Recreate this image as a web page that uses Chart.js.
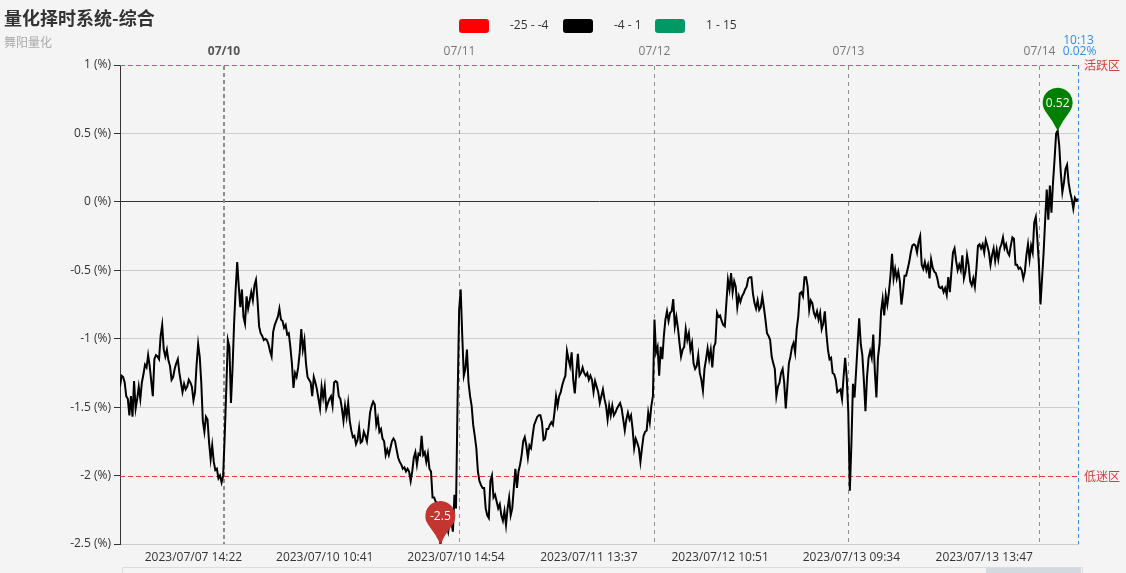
<!DOCTYPE html>
<html><head><meta charset="utf-8">
<script src="https://cdn.jsdelivr.net/npm/chart.js@4"></script>
<style>html,body{margin:0;padding:0;background:#f4f4f4;overflow:hidden}#wrap{width:1126px;height:573px}</style>
</head><body><div id="wrap"><canvas id="c" width="1126" height="573"></canvas></div>
<script>
const FONT = '"Open Sans", "Noto Sans CJK SC", sans-serif';
const CJK = '"Noto Sans CJK SC", "Microsoft YaHei", sans-serif';
const titleText = '量化择时系统-综合';
const subText = '舞阳量化';
const pieceLabels = ['-25 - -4', '-4 - 1', '1 - 15'];
const pieceColors = ['#ff0000', '#000000', '#009966'];
const pieceMin = [-25, -4, 1];
const pieceMax = [-4, 1, 15];
const dayLabels = ['07/10', '07/11', '07/12', '07/13', '07/14'];
const dayIndex = [66.75, 217, 342, 465.7, 588];
const tickIndex = [47, 131, 215, 300, 384, 468, 553];
const tickLabels = ['2023/07/07 14:22', '2023/07/10 10:41', '2023/07/10 14:54', '2023/07/11 13:37', '2023/07/12 10:51', '2023/07/13 09:34', '2023/07/13 13:47'];
const yTicks = [1, 0.5, 0, -0.5, -1, -1.5, -2, -2.5];
const lastTime = '10:13';
const upperLine = 1, upperName = '活跃区';
const lowerLine = -2, lowerName = '低迷区';

// values (%), in time order
const valuesA = [-1.35,-1.27,-1.28,-1.32,-1.42,-1.44,-1.56,-1.42,-1.57,-1.31,
-1.51,-1.44,-1.35,-1.44,-1.32,-1.26,-1.19,-1.21,-1.12,-1.20,
-1.31,-1.42,-1.15,-1.12,-1.13,-1.15,-0.98,-0.90,-1.08,-1.13,
-1.08,-1.16,-1.20,-1.30,-1.28,-1.22,-1.18,-1.15,-1.25,-1.32,
-1.39,-1.33,-1.37,-1.35,-1.30,-1.32,-1.35,-1.45,-1.39,-1.19,
-1.04,-1.13,-1.32,-1.60,-1.68,-1.57,-1.59,-1.76,-1.88,-1.78,
-1.90,-1.96,-1.95,-2.02,-2.00,-2.05,-2.00,-1.71,-1.37,-1.01,
-1.06,-1.47,-1.22,-0.89,-0.64,-0.44,-0.62,-0.77,-0.64,-0.84,
-0.89,-0.69,-0.78,-0.72,-0.66,-0.72,-0.61,-0.57,-0.72,-0.91,
-0.96,-0.98,-1.01,-1.00,-1.01,-1.04,-1.09,-1.13,-0.95,-0.90,
-0.87,-0.84,-0.78,-0.86,-0.87,-0.92,-0.90,-0.97,-0.96,-1.06,
-1.18,-1.36,-1.25,-1.28,-1.21,-1.10,-0.93,-1.08,-1.01,-1.18,
-1.28,-1.30,-1.32,-1.42,-1.28,-1.32,-1.37,-1.44,-1.51,-1.35,
-1.43,-1.35,-1.51,-1.47,-1.44,-1.42,-1.49,-1.32,-1.31,-1.32,
-1.42,-1.44,-1.51,-1.60,-1.49,-1.57,-1.47,-1.60,-1.67,-1.72,
-1.71,-1.77,-1.74,-1.65,-1.76];
const valuesB = [-1.75,-1.68,-1.71,-1.75,-1.66,-1.54,-1.49,-1.46,-1.48,-1.63,-1.58,-1.68,-1.66,-1.73,-1.75,
-1.85,-1.81,-1.85,-1.80,-1.75,-1.73,-1.75,-1.81,-1.87,-1.90,-1.92,-1.95,-1.94,-1.97,-1.95,-1.97,-2.04,-1.97,-1.87,-1.83,
-1.92,-1.84,-1.85,-1.71,-1.85,-1.83,-1.90,-1.84,-1.95,-1.97,-2.16,-2.16,-2.19,-2.20,-2.29,-2.50,-2.45,-2.41,-2.38,-2.36,-2.41,-2.33,-2.33,-2.41,-2.14,-2.24,
-1.46,-0.79,-0.64,-0.98,
-1.27,-1.22,-1.08,-1.32,-1.42,-1.49,-1.63,
-1.71,-1.80,
-1.97,-2.04,-2.07,-2.09,-2.09,-2.24,-2.29,-2.31,-2.04,
-2.00,-2.16,-2.14,-2.19,
-2.24,-2.21,-2.29,-2.33,
-2.26,-2.36,-2.24,
-2.16,-2.29,-2.24,-2.09,-1.95,-2.09,-1.97,-1.92,-1.85,-1.75,-1.72,-1.78,-1.87,-1.78,-1.80,-1.71,-1.63,-1.60,-1.57,-1.56,-1.56,-1.61,-1.74,-1.73,-1.66,-1.66,-1.63,-1.61,-1.63,-1.54,
-1.42,-1.49,-1.42,
-1.39,-1.34,-1.30,-1.27,-1.09,-1.15,-1.20,-1.10,-1.30,-1.40,-1.25,-1.11,-1.27,-1.25,-1.21,-1.25,-1.27,-1.25,-1.30,-1.27];
const valuesC = [-1.30,-1.39,-1.31,-1.35,-1.39,-1.47,-1.42,-1.37,-1.44,-1.49,-1.59,-1.49,
-1.56,-1.49,-1.56,-1.54,-1.51,-1.49,-1.47,-1.51,-1.59,-1.67,-1.59,-1.54,-1.59,-1.56,-1.66,-1.80,-1.73,-1.76,-1.80,-1.90,-1.80,-1.71,-1.68,-1.67,-1.54,-1.61,-1.49,
-1.42,-0.86,-1.10,-1.06,-1.27,-1.06,-1.15,
-0.98,-0.86,-0.80,-0.87,-0.81,-0.80,-0.71,-0.91,-0.84,-0.92,-1.03,-1.13,-1.08,-1.06,-0.93,-1.01,-0.96,-1.08,-1.03,-1.18,-1.22,-1.20,-1.12,-1.25,-1.30,
-1.38,-1.22,
-1.15,-1.07,-1.15,-1.08,-1.21,-1.06,-1.03,-0.81,-0.84,-0.83,-0.87,-0.90,-0.91,-0.74,-0.57,
-0.64,-0.52,
-0.66,-0.58,-0.62,-0.77,-0.69,-0.73,-0.69,-0.67,-0.64,-0.62,-0.56,-0.55,-0.55,-0.67,-0.74,-0.78,-0.72,-0.79,-0.77,-0.69,-0.77,-0.86,-0.96,-0.98,-1.01,-1.13,-1.18,-1.22,-1.42,-1.35,-1.32,-1.25,-1.22,-1.32,
-1.51,-1.35,-1.18,-1.13,-1.06,
-1.03,-1.10,-0.93,
-0.84,-0.67,-0.66,-0.69,-0.55,-0.55,-0.62,-0.79,-0.72,-0.74,-0.81,-0.84,-0.80,-0.86,-0.81,
-0.93,-0.89,
-0.80,-0.96,-1.08,-1.15,-1.14,-1.25,-1.26,-1.30,-1.39];
const valuesD = [-1.38,-1.37,-1.44,-1.28,-1.14,-1.28,
-1.53,-2.11,-1.77,-1.33,-1.43,-1.24,-1.04,-0.85,-1.04,-1.12,-1.31,-1.53,-1.28,-1.14,-1.09,-1.14,-0.97,-1.24,-1.43,-1.14,-1.04,
-0.80,-0.71,-0.83,-0.68,-0.75,-0.66,-0.54,-0.38,-0.56,-0.49,-0.56,-0.51,-0.58,-0.75,-0.66,-0.54,-0.54,
-0.49,-0.44,-0.37,-0.32,-0.31,-0.32,-0.37,-0.29,-0.25,
-0.46,-0.49,-0.44,
-0.50,-0.46,-0.56,-0.42,-0.48,-0.51,-0.52,-0.56,-0.62,-0.63,-0.62,-0.66,-0.63,-0.68,-0.55,-0.66,-0.51,-0.37,-0.34,-0.43,
-0.50,-0.46,-0.50,-0.39,-0.56,-0.51,-0.39,-0.46,-0.58,-0.61,-0.56,-0.62,-0.49,-0.32,-0.31,-0.34,-0.31,-0.37,-0.28,-0.32,
-0.37,-0.46,-0.39,-0.34,-0.43,-0.35,-0.42,-0.34,-0.31,-0.26,-0.34,-0.31,-0.37,-0.39,-0.32,-0.26,-0.27,-0.46,-0.46,-0.49,
-0.48,-0.50,-0.56,-0.51,-0.39,-0.31,-0.42,
-0.32,-0.37,-0.15,
-0.11,-0.27,-0.46,-0.75,-0.56,-0.37,-0.13,
0.09,-0.13,0.12,-0.08,0.14,0.31,0.50,0.52,0.41,0.21,0.07,0.14,0.24,0.27,0.14,0.07,0.02,-0.05,0.03,0.01,0.02];
const values = [...valuesA, ...valuesB, ...valuesC, ...valuesD];

function colorFor(v) {
  for (let i = 0; i < pieceMin.length; i++) if (v >= pieceMin[i] && v <= pieceMax[i]) return pieceColors[i];
  return '#000';
}

function drawPin(ctx, cx, tipY, color, text) {
  const r = 15, cy = tipY - 28, a = Math.PI * 0.2;
  ctx.save();
  ctx.fillStyle = color;
  ctx.beginPath();
  ctx.moveTo(cx, tipY);
  ctx.quadraticCurveTo(cx - r * 0.3, cy + r * 1.25, cx - r * Math.cos(a), cy + r * Math.sin(a));
  ctx.arc(cx, cy, r, Math.PI - a, a, false);
  ctx.quadraticCurveTo(cx + r * 0.3, cy + r * 1.25, cx, tipY);
  ctx.closePath();
  ctx.fill();
  ctx.fillStyle = '#fff';
  ctx.font = '12px ' + FONT;
  ctx.textAlign = 'center';
  ctx.textBaseline = 'middle';
  ctx.fillText(text, cx, cy + 1);
  ctx.restore();
}

function hLine(chart, v, n, col) {
  const { ctx, chartArea: a, scales: { y } } = chart;
  const py = Math.round(y.getPixelForValue(v)) + 0.5;
  ctx.save();
  ctx.strokeStyle = col; ctx.lineWidth = 1; ctx.setLineDash([5, 3]);
  ctx.beginPath(); ctx.moveTo(a.left, py); ctx.lineTo(a.right, py); ctx.stroke();
  ctx.setLineDash([]);
  ctx.fillStyle = '#d43c3c'; ctx.font = '12px ' + CJK; ctx.textAlign = 'left'; ctx.textBaseline = 'middle';
  ctx.fillText(n, a.right + 6, py);
  ctx.restore();
}

const deco = {
  id: 'deco',
  beforeDraw(chart) {
    const c = chart.ctx;
    c.save(); c.fillStyle = '#f4f4f4'; c.fillRect(0, 0, chart.width, chart.height); c.restore();
  },
  beforeDatasetsDraw(chart) {
    const { ctx, chartArea: a, scales: { x, y } } = chart;
    ctx.save();
    ctx.textAlign = 'center'; ctx.textBaseline = 'middle';
    dayIndex.forEach((d, i) => {
      const px = Math.round(x.getPixelForValue(d)) + (i === 0 ? 0 : 0.5);
      ctx.strokeStyle = '#8f8f8f';
      ctx.lineWidth = i === 0 ? 2 : 1;
      ctx.setLineDash(i === 0 ? [4, 3] : [4, 4]);
      ctx.beginPath(); ctx.moveTo(px, a.top + 1); ctx.lineTo(px, a.bottom); ctx.stroke();
      ctx.setLineDash([]);
      ctx.fillStyle = i === 0 ? '#555' : '#777';
      ctx.font = (i === 0 ? 'bold ' : '') + '12px ' + FONT;
      ctx.fillText(dayLabels[i], px, 52);
    });
    hLine(chart, lowerLine, lowerName, '#dc3c3c');
    const last = values.length - 1;
    const lx = Math.round(x.getPixelForValue(last)) + 0.5;
    ctx.strokeStyle = '#2f8fea'; ctx.lineWidth = 1; ctx.setLineDash([4, 3]);
    ctx.beginPath(); ctx.moveTo(lx, a.top); ctx.lineTo(lx, a.bottom); ctx.stroke();
    ctx.setLineDash([]);
    ctx.fillStyle = '#2f8fea'; ctx.font = '12px ' + FONT; ctx.textAlign = 'center';
    ctx.fillText(lastTime, lx, 41);
    ctx.fillText(values[last].toFixed(2) + '%', lx + 1, 52);
    ctx.restore();
  },
  afterDatasetsDraw(chart) {
    const { ctx, scales: { x, y } } = chart;
    let mi = 0, ma = 0;
    values.forEach((v, i) => { if (v < values[mi]) mi = i; if (v > values[ma]) ma = i; });
    drawPin(ctx, x.getPixelForValue(mi), y.getPixelForValue(values[mi]), '#c23531', String(values[mi]));
    drawPin(ctx, x.getPixelForValue(ma), y.getPixelForValue(values[ma]), '#008000', String(values[ma]));
  },
  afterDraw(chart) {
    const ctx = chart.ctx;
    hLine(chart, upperLine, upperName, '#d9534f');
    ctx.save();
    ctx.textBaseline = 'middle'; ctx.textAlign = 'left';
    ctx.fillStyle = '#333'; ctx.font = 'bold 18px ' + CJK;
    ctx.fillText(titleText, 4, 18);
    ctx.fillStyle = '#aaa'; ctx.font = '12px ' + CJK;
    ctx.fillText(subText, 4, 42);
    // legend (visual pieces)
    const boxX = [459, 563, 655];
    ctx.font = '12px ' + FONT;
    pieceLabels.forEach((t, i) => {
      ctx.fillStyle = pieceColors[i];
      const bx = boxX[i], by = 19, bw = 30, bh = 14, r = 3;
      ctx.beginPath();
      ctx.moveTo(bx + r, by); ctx.lineTo(bx + bw - r, by); ctx.quadraticCurveTo(bx + bw, by, bx + bw, by + r);
      ctx.lineTo(bx + bw, by + bh - r); ctx.quadraticCurveTo(bx + bw, by + bh, bx + bw - r, by + bh);
      ctx.lineTo(bx + r, by + bh); ctx.quadraticCurveTo(bx, by + bh, bx, by + bh - r);
      ctx.lineTo(bx, by + r); ctx.quadraticCurveTo(bx, by, bx + r, by);
      ctx.fill();
      ctx.fillStyle = '#333';
      ctx.fillText(t, bx + bw + 21, 26);
    });
    // data zoom slider strip
    ctx.strokeStyle = '#dcdcdc'; ctx.lineWidth = 1;
    ctx.strokeRect(122.5, 567.5, 960, 20);
    ctx.fillStyle = '#d4d9e0';
    ctx.fillRect(986, 568, 95, 6);
    ctx.restore();
  }
};

Chart.defaults.font.family = FONT;
new Chart(document.getElementById('c'), {
  type: 'line',
  data: {
    datasets: [{
      data: values.map((v, i) => ({ x: i, y: v })),
      borderColor: '#000', borderWidth: 2, pointRadius: 0, tension: 0,
      segment: { borderColor: c => colorFor(c.p1.parsed.y) }
    }]
  },
  options: {
    responsive: false, animation: false, devicePixelRatio: 1,
    layout: { padding: { left: 0, top: 65, right: 48, bottom: 0 } },
    plugins: { legend: { display: false }, tooltip: { enabled: false }, title: { display: false } },
    scales: {
      x: {
        type: 'linear', min: 0, max: values.length - 1,
        grid: { display: false, drawTicks: false },
        border: { color: '#ccc' },
        afterBuildTicks: s => { s.ticks = tickIndex.map(v => ({ value: v })); },
        ticks: {
          autoSkip: false, maxRotation: 0, padding: 6, color: '#333', font: { size: 12 },
          callback: v => { const k = tickIndex.indexOf(v); return k >= 0 ? tickLabels[k] : ''; }
        },
        afterFit: s => { s.height = 29; }
      },
      y: {
        min: -2.5, max: 1,
        afterBuildTicks: s => { s.ticks = yTicks.map(v => ({ value: v })); },
        grid: {
          color: c => c.tick.value === 0 ? '#333' : ((c.tick.value === -2 || c.tick.value === 1) ? 'rgba(0,0,0,0)' : '#cccccc'),
          tickColor: '#333', tickLength: 6
        },
        border: { color: '#333' },
        ticks: { padding: 3, color: '#333', font: { size: 12 }, callback: v => v + ' (%)' },
        afterFit: s => { s.width = 120; }
      }
    }
  },
  plugins: [deco]
});
</script>
</body></html>
